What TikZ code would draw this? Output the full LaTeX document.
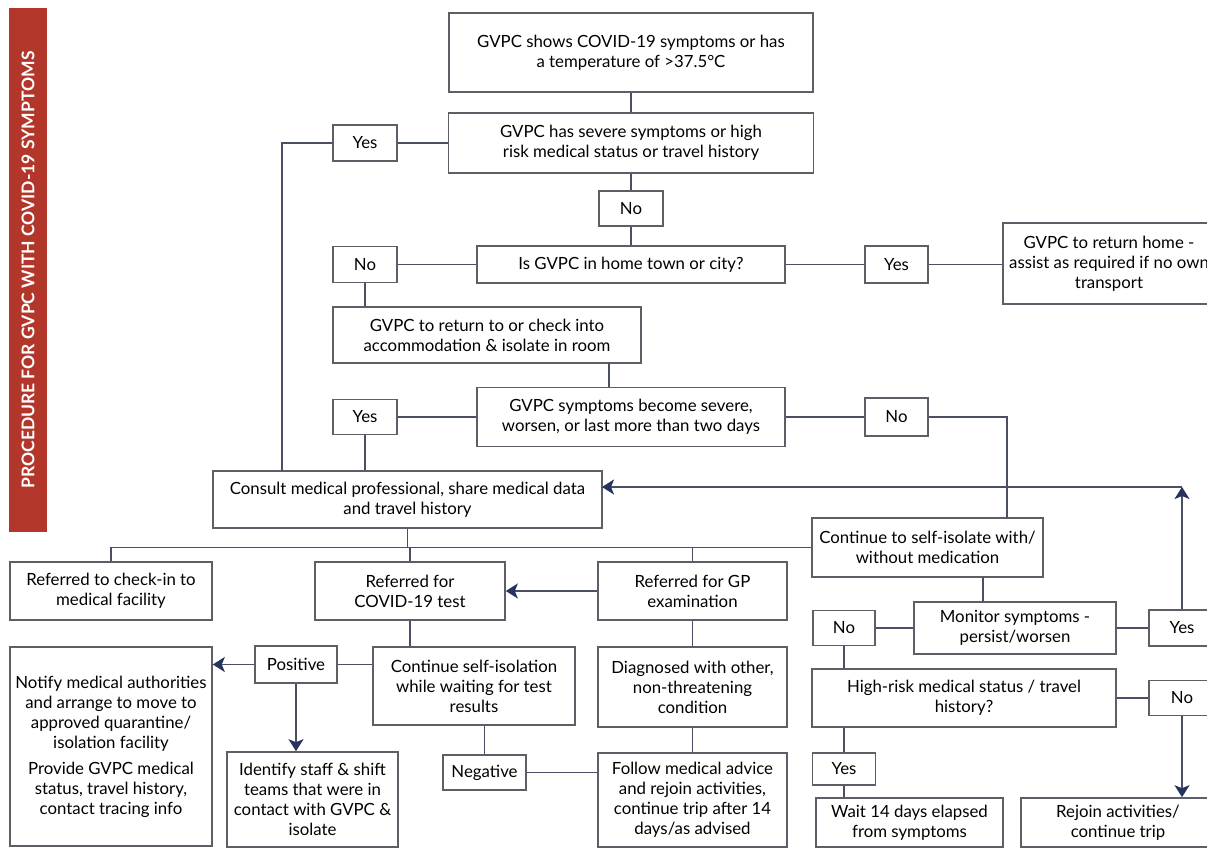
\documentclass[tikz,border=0pt]{standalone}
\usepackage{fontspec}
\setmainfont{Lato}
\usetikzlibrary{positioning,calc,arrows.meta}
\definecolor{barred}{HTML}{B3362B}
\definecolor{linegray}{HTML}{4B4F63}
\definecolor{boxgray}{HTML}{5E5E66}
\definecolor{tipblue}{HTML}{26335E}

\begin{document}
\begin{tikzpicture}[x=1pt,y=-1pt,
    box/.style={draw=boxgray,line width=1.6pt,fill=white,align=center,inner sep=1pt,
      font=\fontsize{16.8}{20}\selectfont},
    sz/.style 2 args={minimum width=#1pt,minimum height=#2pt},
    link/.style={draw=linegray,line width=1.8pt},
    arr/.style={link,-{Stealth[length=12pt,width=15pt,inset=3pt,color=tipblue]}}]
    \useasboundingbox (0,0) rectangle (1207,848);
    \clip (0,0) rectangle (1207,848);

    % Side bar
    \fill[barred] (9,8) rectangle (47,532);
    \node[rotate=90,text=white,font=\fontsize{17.5}{19}\selectfont\bfseries] (title) at (28,270)
        {PROCEDURE FOR GVPC WITH COVID-19 SYMPTOMS};

    % Upper part
    \node[box,sz={364}{79}] (start) at (631,52.5) {GVPC shows COVID-19 symptoms or has\\a temperature of >37.5°C};
    \node[box,sz={365}{60}] (severe) at (631,143) {GVPC has severe symptoms or high\\risk medical status or travel history};
    \node[box,sz={64}{36}] (yesA) at (365,143) {Yes};
    \node[box,sz={64}{35}] (noA) at (631,208.5) {No};
    \node[box,sz={308}{37}] (hometown) at (631,264.5) {Is GVPC in home town or city?};
    \node[box,sz={64}{36}] (noB) at (365,264.5) {No};
    \node[box,sz={63}{37}] (yesB) at (896.5,264.5) {Yes};
    \node[box,sz={212}{81}] (gohome) at (1109,263.5) {GVPC to return home -\\assist as required if no own\\transport};
    \node[box,sz={308}{56}] (accom) at (487,335) {GVPC to return to or check into\\accommodation \& isolate in room};
    \node[box,sz={64}{35}] (yesC) at (365,417) {Yes};
    \node[box,sz={308}{59}] (worsen) at (631,417) {GVPC symptoms become severe,\\worsen, or last more than two days};
    \node[box,sz={63}{38}] (noC) at (896.5,417) {No};
    \node[box,sz={389}{57}] (consult) at (407.5,499.5) {Consult medical professional, share medical data\\and travel history};
    \node[box,sz={231}{59}] (selfiso) at (927.5,547.5) {Continue to self-isolate with/\\without medication};

    % Lower left part
    \node[box,sz={202}{58}] (checkin) at (111,591) {Referred to check-in to\\medical facility};
    \node[box,sz={190}{58}] (covidtest) at (410,591) {Referred for\\COVID-19 test};
    \node[box,sz={189}{58}] (gpexam) at (692.5,591) {Referred for GP\\examination};
    \node[box,sz={82}{37}] (positive) at (296,664.5) {Positive};
    \node[box,sz={202}{78}] (waittest) at (474,686) {Continue self-isolation\\while waiting for test\\results};
    \node[box,sz={189}{80}] (diagnosed) at (692.5,687) {Diagnosed with other,\\non-threatening\\condition};
    \node[box,sz={202}{199}] (notify) at (111,746.5) {Notify medical authorities\\and arrange to move to\\approved quarantine/\\isolation facility\\[6pt]Provide GVPC medical\\status, travel history,\\contact tracing info};
    \node[box,sz={171}{95}] (identify) at (312.5,799.5) {Identify staff \& shift\\teams that were in\\contact with GVPC \&\\isolate};
    \node[box,sz={83}{35}] (negative) at (484.5,772.5) {Negative};
    \node[box,sz={189}{94}] (follow) at (692.5,800) {Follow medical advice\\and rejoin activities,\\continue trip after 14\\days/as advised};

    % Lower right part
    \node[box,sz={202}{52}] (monitor) at (1015,628) {Monitor symptoms -\\persist/worsen};
    \node[box,sz={62}{35}] (noD) at (844,628) {No};
    \node[box,sz={66}{36}] (yesD) at (1182,628) {Yes};
    \node[box,sz={304}{58}] (highrisk) at (964,698) {High-risk medical status / travel\\history?};
    \node[box,sz={66}{35}] (noE) at (1182,698) {No};
    \node[box,sz={63}{32}] (yesE) at (844,769) {Yes};
    \node[box,sz={187}{49}] (waitdays) at (909.5,822.5) {Wait 14 days elapsed\\from symptoms};
    \node[box,sz={194}{49}] (rejoin) at (1118,822.5) {Rejoin activities/\\continue trip};

    % Bends of the connectors
    \coordinate (bendA) at (282,471);
    \coordinate (accomout) at (609,363);
    \coordinate (worsenin) at (609,387);
    \coordinate (isoin) at (1007,518);
    \coordinate (back) at (1182,487);
    \coordinate (consultin) at (602,487);
    \coordinate (isoout) at (983,577);
    \coordinate (monin) at (983,602);

    % Connectors
    \draw[link] (start) -- (severe);
    \draw[link] (severe.west) -- (severe.west -| yesA.east);
    \draw[link] (yesA.west) -| (bendA);
    \draw[link] (severe) -- (noA);
    \draw[link] (noA) -- (hometown);
    \draw[link] (hometown.west) -- (noB.east);
    \draw[link] (hometown.east) -- (yesB.west);
    \draw[link] (yesB.east) -- (yesB.east -| gohome.west);
    \draw[link] (noB.south) -- (noB.south |- accom.north);
    \draw[link] (accomout) -- (worsenin);
    \draw[link] (worsen.west) -- (yesC.east);
    \draw[link] (worsen.east) -- (noC.west);
    \draw[link] (yesC.south) -- (yesC.south |- consult.north);
    \draw[link] (noC.east) -| (isoin);
    \draw[arr] (yesD.north) -- (back);
    \draw[arr] (back) -- (consultin);
    \draw[link] (consult.south) -- (consult.south |- selfiso.west);
    \draw[link] (checkin.north) |- (selfiso.west);
    \draw[link] (covidtest.north) -- (covidtest.north |- selfiso.west);
    \draw[link] (gpexam.north) -- (gpexam.north |- selfiso.west);
    \draw[arr] (gpexam.west) -- (gpexam.west -| covidtest.east);
    \draw[link] (covidtest.south) -- (covidtest.south |- waittest.north);
    \draw[link] (waittest.west |- positive.east) -- (positive.east);
    \draw[arr] (positive.west) -- (positive.west -| notify.east);
    \draw[arr] (positive.south) -- (positive.south |- identify.north);
    \draw[link] (negative.north |- waittest.south) -- (negative.north);
    \draw[link] (negative.east) -- (negative.east -| follow.west);
    \draw[link] (gpexam) -- (diagnosed);
    \draw[link] (diagnosed) -- (follow);
    \draw[link] (isoout) -- (monin);
    \draw[link] (monitor.west) -- (noD.east);
    \draw[link] (monitor.east) -- (yesD.west);
    \draw[link] (noD.south) -- (noD.south |- highrisk.north);
    \draw[link] (highrisk.east) -- (noE.west);
    \draw[arr] (noE.south) -- (noE.south |- rejoin.north);
    \draw[link] (yesE.north |- highrisk.south) -- (yesE.north);
    \draw[link] (yesE.south) -- (yesE.south |- waitdays.north);
\end{tikzpicture}
\end{document}
